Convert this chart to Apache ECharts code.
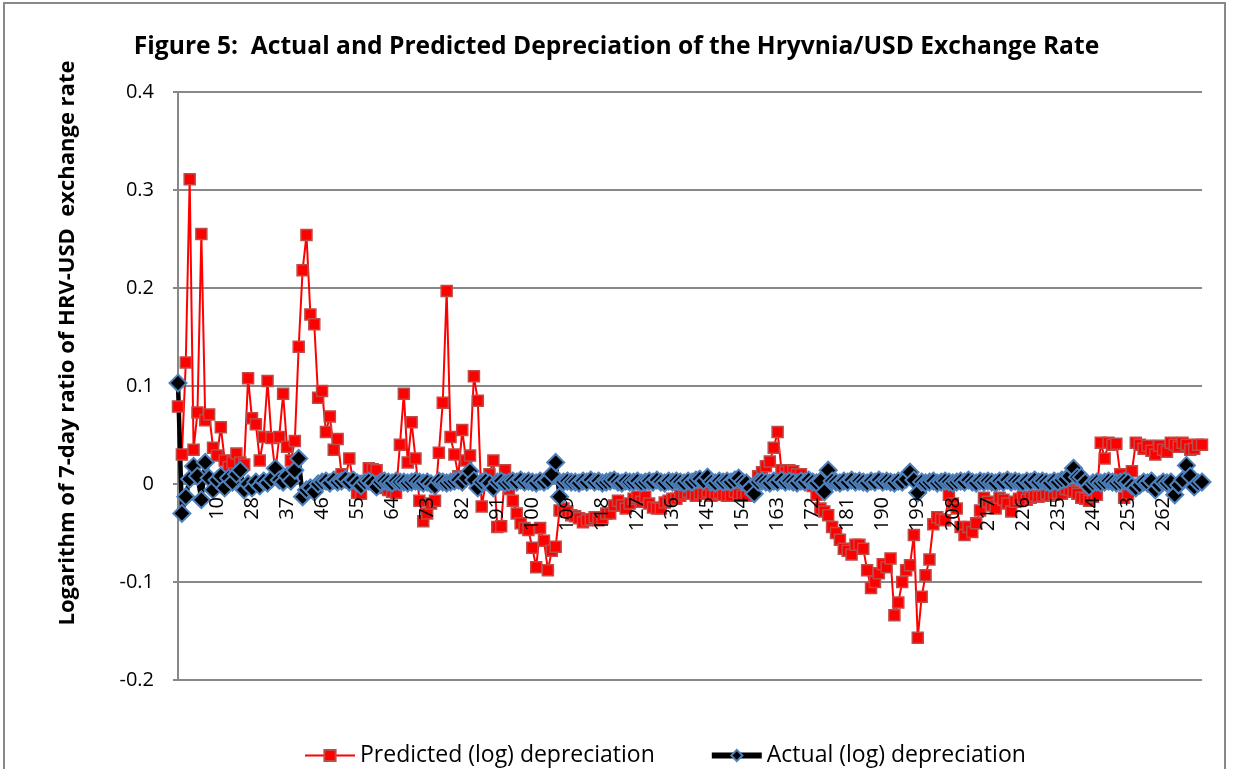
<!DOCTYPE html>
<html>
<head>
<meta charset="utf-8">
<script src="https://cdn.jsdelivr.net/npm/echarts@6/dist/echarts.min.js"></script>
<style>
  html, body { margin: 0; padding: 0; background: #fff; }
  #chart { width: 1233px; height: 769px; }
</style>
</head>
<body>
<div id="chart"></div>
<script>
// category labels (observation numbers as printed on the axis)
var categories = [];
for (var i = 0; i < 264; i++) {
  categories.push(String(i <= 10 ? i : i + 9));
}

var predicted = [
  0.079, 0.030, 0.124, 0.311, 0.035, 0.073, 0.255, 0.065, 0.071, 0.037,
  0.029, 0.058, 0.024, 0.017, 0.022, 0.031, 0.022, 0.020, 0.108, 0.067,
  0.061, 0.024, 0.048, 0.105, 0.047, 0.012, 0.048, 0.092, 0.038, 0.024,
  0.044, 0.140, 0.218, 0.254, 0.173, 0.163, 0.088, 0.095, 0.053, 0.069,
  0.035, 0.046, 0.010, 0.005, 0.026, 0.002, -0.009, -0.010, 0.003, 0.016,
  0.015, 0.014, 0.002, -0.004, -0.006, -0.008, -0.009, 0.040, 0.092, 0.022,
  0.063, 0.026, -0.017, -0.038, -0.030, -0.020, -0.017, 0.032, 0.083, 0.197,
  0.048, 0.030, 0.008, 0.055, 0.024, 0.029, 0.110, 0.085, -0.023, 0.000,
  0.010, 0.024, -0.044, -0.043, 0.014, -0.005, -0.017, -0.030, -0.040, -0.045,
  -0.047, -0.065, -0.085, -0.045, -0.058, -0.088, -0.068, -0.064, -0.027, -0.025,
  -0.028, -0.032, -0.033, -0.035, -0.039, -0.037, -0.036, -0.034, -0.037, -0.035,
  -0.030, -0.030, -0.022, -0.017, -0.022, -0.025, -0.020, -0.015, -0.013, -0.018,
  -0.013, -0.020, -0.024, -0.025, -0.025, -0.019, -0.017, -0.015, -0.015, -0.012,
  -0.010, -0.008, -0.010, -0.012, -0.010, -0.010, -0.008, -0.012, -0.010, -0.009,
  -0.011, -0.012, -0.012, -0.008, -0.010, -0.012, -0.012, -0.005, 0.000, 0.008,
  0.012, 0.018, 0.023, 0.037, 0.053, 0.014, 0.012, 0.014, 0.013, 0.010,
  0.010, 0.005, 0.002, -0.002, -0.011, -0.025, -0.028, -0.032, -0.044, -0.050,
  -0.057, -0.066, -0.068, -0.072, -0.062, -0.062, -0.066, -0.088, -0.106, -0.100,
  -0.091, -0.082, -0.085, -0.076, -0.134, -0.121, -0.100, -0.088, -0.083, -0.052,
  -0.157, -0.115, -0.093, -0.077, -0.041, -0.034, -0.036, -0.037, -0.011, -0.020,
  -0.025, -0.044, -0.052, -0.044, -0.049, -0.040, -0.027, -0.014, -0.018, -0.022,
  -0.025, -0.014, -0.016, -0.020, -0.028, -0.018, -0.015, -0.013, -0.016, -0.014,
  -0.012, -0.013, -0.012, -0.010, -0.012, -0.011, -0.009, -0.010, -0.005, -0.006,
  -0.008, -0.010, -0.014, -0.015, -0.017, -0.013, -0.011, 0.042, 0.026, 0.042,
  0.040, 0.041, 0.010, -0.014, -0.010, 0.013, 0.042, 0.040, 0.036, 0.039,
  0.034, 0.030, 0.039, 0.035, 0.033, 0.042, 0.040, 0.038, 0.042, 0.040,
  0.035, 0.036, 0.040, 0.040
];

var actual = [
  0.103, -0.030, -0.013, 0.005, 0.018, 0.008, -0.016, 0.022, 0.006, -0.006,
  0.004, 0.008, -0.004, 0.006, 0.002, 0.010, 0.014, -0.006, 0.000, -0.004,
  0.002, -0.002, 0.003, 0.001, 0.005, 0.016, 0.004, 0.002, 0.008, 0.003,
  0.014, 0.026, -0.013, -0.006, -0.004, -0.008, 0.000, 0.002, 0.003, 0.001,
  0.004, 0.002, 0.003, 0.005, 0.002, 0.004, 0.001, -0.002, 0.002, 0.003,
  0.001, -0.003, 0.002, 0.003, 0.002, 0.001, 0.003, 0.002, 0.002, 0.001,
  0.002, 0.003, 0.002, 0.001, 0.002, 0.000, -0.002, 0.003, 0.002, 0.001,
  0.002, 0.003, 0.004, 0.002, 0.006, 0.013, 0.004, -0.004, 0.002, 0.003,
  0.001, -0.004, 0.002, 0.003, 0.001, 0.002, 0.003, 0.002, 0.004, 0.002,
  0.003, 0.002, 0.001, 0.003, 0.002, 0.004, 0.010, 0.022, -0.013, 0.002,
  0.003, 0.002, 0.002, 0.001, 0.003, 0.002, 0.004, 0.002, 0.003, 0.001,
  0.002, 0.003, 0.004, 0.002, 0.001, 0.003, 0.002, 0.002, 0.003, 0.001,
  0.002, 0.003, 0.002, 0.004, 0.002, 0.001, 0.003, 0.002, 0.003, 0.002,
  0.001, 0.003, 0.002, 0.004, 0.005, 0.003, 0.007, 0.002, 0.001, 0.003,
  0.002, 0.003, 0.002, 0.004, 0.006, 0.002, 0.001, -0.004, -0.010, 0.002,
  0.003, 0.002, 0.001, 0.003, 0.002, 0.004, 0.002, 0.003, 0.002, 0.001,
  0.003, 0.002, 0.004, 0.002, 0.001, 0.003, -0.008, 0.014, 0.003, 0.002,
  0.001, 0.003, 0.002, 0.004, 0.002, 0.003, 0.002, 0.001, 0.003, 0.002,
  0.004, 0.002, 0.003, 0.002, 0.001, 0.003, 0.002, 0.005, 0.012, 0.004,
  -0.009, 0.002, 0.001, 0.002, 0.003, 0.001, 0.002, 0.003, 0.002, 0.001,
  0.002, 0.003, 0.002, 0.004, 0.002, 0.001, 0.003, 0.002, 0.003, 0.002,
  0.001, 0.003, 0.002, 0.004, 0.002, 0.003, 0.002, 0.001, 0.003, 0.002,
  0.004, 0.002, 0.003, 0.002, 0.001, 0.003, 0.002, 0.004, 0.005, 0.008,
  0.016, 0.007, 0.007, 0.002, -0.003, 0.001, 0.002, 0.001, 0.002, 0.003,
  0.002, 0.001, 0.002, 0.003, 0.002, -0.002, -0.004, -0.001, 0.002, 0.001,
  0.003, -0.006, -0.001, 0.002, 0.001, 0.002, -0.011, -0.001, 0.004, 0.019,
  0.008, -0.003, 0.001, 0.002
];

var yTicks = { min: -0.2, max: 0.4, interval: 0.1 };

var font = '"Open Sans", "Noto Sans", sans-serif';
var gray = '#888888';

var myChart = echarts.init(document.getElementById('chart'));

myChart.setOption({
  animation: false,
  backgroundColor: '#ffffff',
  title: {
    text: 'Figure 5:  Actual and Predicted Depreciation of the Hryvnia/USD Exchange Rate',
    left: 'center',
    top: 29,
    textStyle: {
      fontFamily: font,
      fontSize: 24.6,
      fontWeight: 'bold',
      color: '#000'
    }
  },
  legend: {
    left: 299,
    top: 739,
    itemWidth: 50,
    itemHeight: 14,
    itemGap: 54,
    textStyle: {
      fontFamily: font,
      fontSize: 23,
      color: '#000'
    },
    data: [
      { name: 'Predicted (log) depreciation' },
      { name: 'Actual (log) depreciation', lineStyle: { width: 6 } }
    ]
  },
  graphic: [
    {
      type: 'rect',
      silent: true,
      shape: { x: 4, y: 3, width: 1221, height: 820 },
      style: { fill: 'none', stroke: gray, lineWidth: 2 }
    },
    {
      type: 'text',
      silent: true,
      x: 68,
      y: 343,
      rotation: Math.PI / 2,
      style: {
        text: 'Logarithm of 7-day ratio of HRV-USD  exchange rate',
        font: 'bold 22px ' + font,
        fill: '#000',
        textAlign: 'center',
        textVerticalAlign: 'middle'
      }
    }
  ],
  grid: {
    left: 178,
    right: 31,
    top: 92,
    bottom: 89,
    z: 5,
    containLabel: false,
    outerBoundsMode: 'none'
  },
  xAxis: {
    type: 'category',
    data: categories,
    boundaryGap: false,
    // the labels sit just under the zero line, 196px above the grid bottom
    offset: -196,
    z: 5,
    axisLine: { show: false, onZero: false },
    axisTick: { show: false },
    axisLabel: {
      rotate: 90,
      margin: 13,
      fontFamily: font,
      fontSize: 20,
      color: '#000',
      interval: function (index) {
        return index % 9 === 1 && index > 1 && index <= 253;
      }
    },
    splitLine: { show: false }
  },
  yAxis: {
    type: 'value',
    min: yTicks.min,
    max: yTicks.max,
    interval: yTicks.interval,
    z: 0,
    axisLine: {
      show: true,
      lineStyle: { color: gray, width: 2 }
    },
    axisTick: {
      show: true,
      length: 5,
      lineStyle: { color: gray, width: 2 }
    },
    axisLabel: {
      margin: 24,
      fontFamily: font,
      fontSize: 20,
      color: '#000'
    },
    splitLine: {
      lineStyle: { color: gray, width: 2 }
    }
  },
  series: [
    {
      name: 'Predicted (log) depreciation',
      type: 'line',
      data: predicted,
      symbol: 'rect',
      symbolSize: 11,
      showSymbol: true,
      showAllSymbol: true,
      lineStyle: { color: '#ff0000', width: 2 },
      itemStyle: { color: '#ff0000', borderColor: '#be4b48', borderWidth: 1.5 }
    },
    {
      name: 'Actual (log) depreciation',
      type: 'line',
      data: actual,
      symbol: 'diamond',
      symbolSize: 17,
      showSymbol: true,
      showAllSymbol: true,
      lineStyle: { color: '#000000', width: 4.5 },
      itemStyle: { color: '#000000', borderColor: '#4f81bd', borderWidth: 2 }
    }
  ]
});
</script>
</body>
</html>
